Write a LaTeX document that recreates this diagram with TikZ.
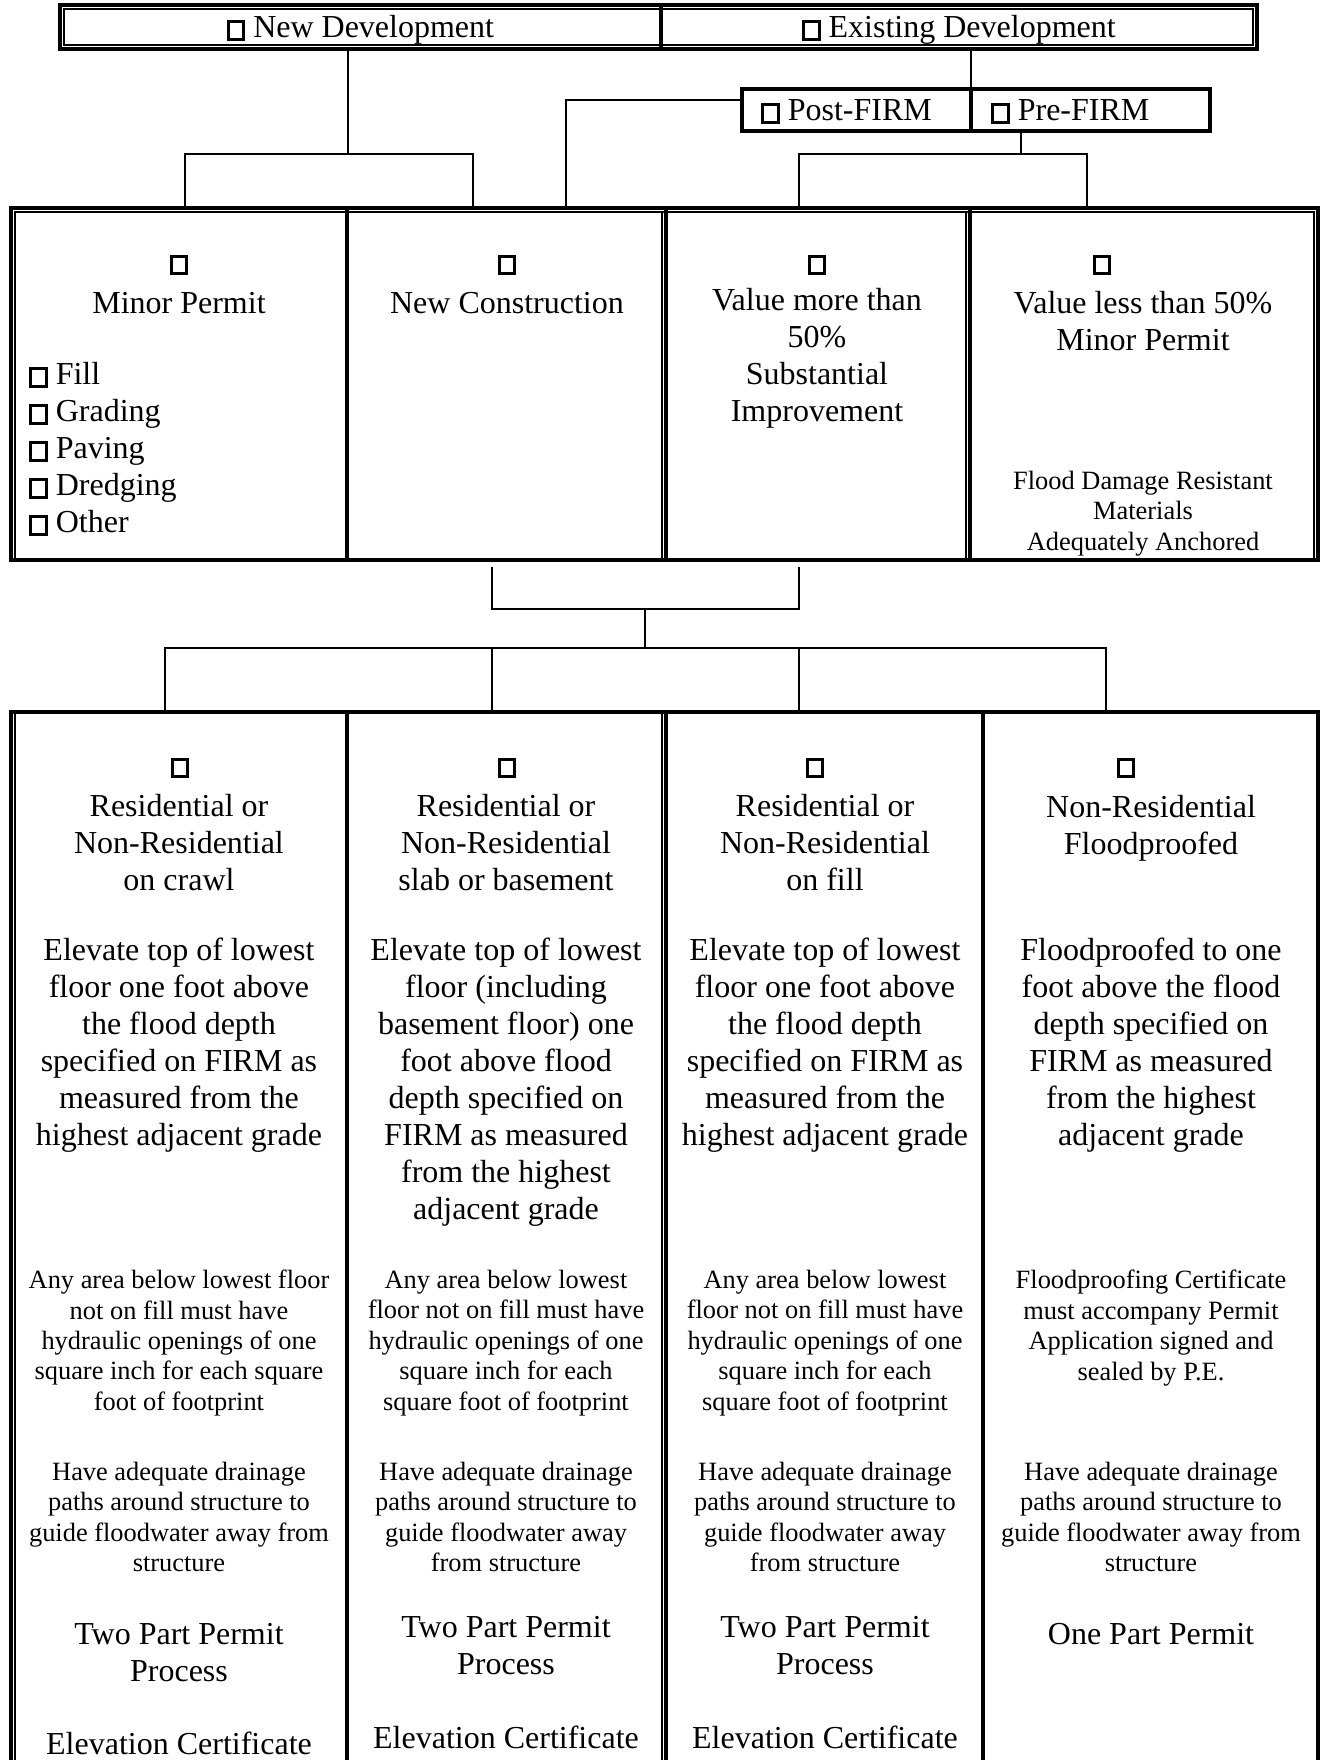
\documentclass[tikz,border=0pt]{standalone}
\usepackage{fontspec}
\setmainfont{Liberation Serif}
\usetikzlibrary{positioning,calc}

\newcommand{\cbox}{{\setlength{\fboxsep}{0pt}\setlength{\fboxrule}{1.4pt}%
  \fbox{\rule{0pt}{7.4pt}\rule{6.4pt}{0pt}}}}

\begin{document}
\begin{tikzpicture}[x=0.5pt, y=-0.5pt,
    cell/.style 2 args={draw, line width=1.8pt, minimum width=#1,
                 minimum height=#2, inner sep=0pt, outer sep=0pt},
    rim/.style={line width=0.7pt},
    link/.style={line width=0.8pt},
    big/.style={font=\fontsize{16}{18.5}\selectfont, align=center, inner sep=0pt},
    small/.style={font=\fontsize{13.2}{15.2}\selectfont, align=center, inner sep=0pt},
    low/.style={text height=14.5pt, text depth=3.5pt},
    chk/.style={inner sep=0pt}]
  \useasboundingbox (0,0) rectangle (1322,1760);
  \clip (0,0) rectangle (1322,1760);

  %% Development type
  \node[cell={300.5pt}{22pt}, big, low] (nd) at (360.5,27) {\cbox\ New Development};
  \node[cell={298pt}{22pt}, big, low] (ed) at (959,27) {\cbox\ Existing Development};
  \draw[rim] ($(nd.north west)+(4,4)$) rectangle ($(ed.south east)+(-4,-4)$);

  \node[cell={114.5pt}{21pt}] (pf) at (856.5,110) {};
  \node[cell={119.5pt}{21pt}] (pre) at (1090.5,110) {};
  \node[big, low, anchor=west] (pft) at ($(pf.west)+(19,0)$) {\cbox\ Post-FIRM};
  \node[big, low, anchor=west] (pret) at ($(pre.west)+(20,0)$) {\cbox\ Pre-FIRM};

  %% Permit kind
  \node[cell={168pt}{176pt}] (c1) at (179,384) {};
  \node[cell={159.5pt}{176pt}] (c2) at (506.5,384) {};
  \node[cell={152pt}{176pt}] (c3) at (818,384) {};
  \node[cell={174pt}{176pt}] (c4) at (1144,384) {};
  \draw[rim] ($(c1.south west)+(4,0)$) |- ($(c4.north east)+(-4,4)$)
    -- ($(c4.south east)+(-4,0)$);
  \foreach \c in {c3,c4}
    \draw[rim] ($(\c.north west)+(-4,4)$) -- ($(\c.south west)+(-4,0)$);

  \foreach \n/\x in {a/179,b/507,c/817,d/1102}
    \node[chk] (k\n) at (\x,265) {\cbox};
  \node[big] (mp) at (179,303) {Minor Permit};
  \node[big, anchor=west, align=left] (mlist) at (29,449)
    {\cbox\ Fill\\\cbox\ Grading\\\cbox\ Paving\\\cbox\ Dredging\\\cbox\ Other};
  \node[big] (nc) at (507,303) {New Construction};
  \node[big] (vm) at (817,358) {Value more than\\50\%\\Substantial\\Improvement};
  \node[big] (vl) at (1143,321.5) {Value less than 50\%\\Minor Permit};
  \node[small] (fd) at (1143,513.5)
    {Flood Damage Resistant\\Materials\\Adequately Anchored};

  %% Building type
  \node[cell={168pt}{539pt}] (r1) at (179,1251) {};
  \node[cell={159.5pt}{539pt}] (r2) at (506.5,1251) {};
  \node[cell={158.5pt}{539pt}] (r3) at (824.5,1251) {};
  \node[cell={167.5pt}{539pt}] (r4) at (1150.5,1251) {};
  \draw[rim] ($(r1.north west)+(4,0)$) -- ($(r1.south west)+(4,0)$);
  \draw[rim] ($(r3.north west)+(-4,0)$) -- ($(r3.south west)+(-4,0)$);

  \foreach \n/\x in {a/180,b/507,c/815,d/1126}
    \node[chk] (q\n) at (\x,768) {\cbox};
  \node[big] (h1) at (179,843) {Residential or\\Non-Residential\\on crawl};
  \node[big] (h2) at (506,843) {Residential or\\Non-Residential\\slab or basement};
  \node[big] (h3) at (825,843) {Residential or\\Non-Residential\\on fill};
  \node[big] (h4) at (1151,828) {Non-Residential\\Floodproofed};

  \node[big] (e1) at (179,1045.5) {Elevate top of lowest\\floor one foot above\\the flood depth\\specified on FIRM as\\measured from the\\highest adjacent grade};
  \node[big] (e2) at (506,1082) {Elevate top of lowest\\floor (including\\basement floor) one\\foot above flood\\depth specified on\\FIRM as measured\\from the highest\\adjacent grade};
  \node[big] (e3) at (825,1045.5) {Elevate top of lowest\\floor one foot above\\the flood depth\\specified on FIRM as\\measured from the\\highest adjacent grade};
  \node[big] (e4) at (1151,1045.5) {Floodproofed to one\\foot above the flood\\depth specified on\\FIRM as measured\\from the highest\\adjacent grade};

  \node[small] (o1) at (179,1343) {Any area below lowest floor\\not on fill must have\\hydraulic openings of one\\square inch for each square\\foot of footprint};
  \node[small] (o2) at (506,1343) {Any area below lowest\\floor not on fill must have\\hydraulic openings of one\\square inch for each\\square foot of footprint};
  \node[small] (o3) at (825,1343) {Any area below lowest\\floor not on fill must have\\hydraulic openings of one\\square inch for each\\square foot of footprint};
  \node[small] (o4) at (1151,1328) {Floodproofing Certificate\\must accompany Permit\\Application signed and\\sealed by P.E.};

  \node[small] (d1) at (179,1517) {Have adequate drainage\\paths around structure to\\guide floodwater away from\\structure};
  \node[small] (d2) at (506,1517) {Have adequate drainage\\paths around structure to\\guide floodwater away\\from structure};
  \node[small] (d3) at (825,1517) {Have adequate drainage\\paths around structure to\\guide floodwater away\\from structure};
  \node[small] (d4) at (1151,1517) {Have adequate drainage\\paths around structure to\\guide floodwater away from\\structure};

  \node[big] (p1) at (179,1652.5) {Two Part Permit\\Process};
  \node[big] (p2) at (506,1645.5) {Two Part Permit\\Process};
  \node[big] (p3) at (825,1645.5) {Two Part Permit\\Process};
  \node[big] (p4) at (1151,1634) {One Part Permit};
  \node[big] (v1) at (179,1743) {Elevation Certificate};
  \node[big] (v2) at (506,1737) {Elevation Certificate};
  \node[big] (v3) at (825,1737) {Elevation Certificate};

  %% Connecting lines
  \coordinate (ndj) at (348,154);
  \coordinate (prej) at (1021,154);
  \coordinate (joinA) at (645,609);
  \coordinate (joinB) at (645,648);
  \draw[link] (nd.south -| ndj) -- (ndj);
  \draw[link] ($(c1.north)+(6,0)$) |- (ndj) -| ($(c2.north)+(-33.5,0)$);
  \draw[link] (pf.north east |- ed.south) -- (pf.north east);
  \draw[link] ($(pf.west)+(0,-10)$) -| ($(c2.north)+(59.5,0)$);
  \draw[link] (pre.south -| prej) -- (prej);
  \draw[link] ($(c3.north)+(-19,0)$) |- (prej) -| ($(c4.north)+(-57,0)$);
  \draw[link] ($(c2.south)+(-14.5,7)$) |- (joinA) -| ($(c3.south)+(-19,7)$);
  \draw[link] (joinA) -- (joinB);
  \draw[link] ($(r1.north)+(-14,0)$) |- (joinB) -| ($(r4.north)+(-44.5,0)$);
  \foreach \c/\dx in {r2/-14.5,r3/-25.5}
    \draw[link] ($(\c.north)+(\dx,0)$) -- ++(0,-64);
\end{tikzpicture}
\end{document}
